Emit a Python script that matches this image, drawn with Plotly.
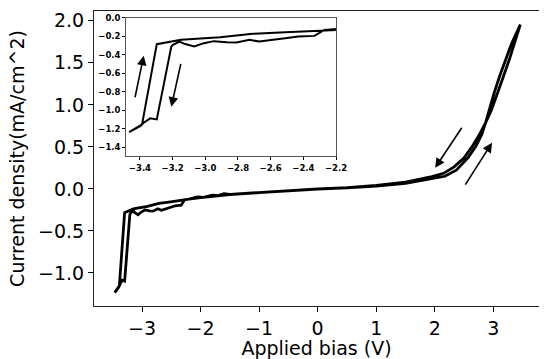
import plotly.graph_objects as go

# Forward sweep (V ascending)
fwd_v = [-3.466, -3.43, -3.396, -3.387, -3.297, -3.148, -2.909, -2.710, -2.511, -2.312, -2.2,
         -2.0, -1.5, -1.0, -0.5, 0.0, 0.5, 1.0, 1.5, 1.95, 2.172, 2.367, 2.566, 2.702, 2.803,
         2.867, 2.93, 3.014, 3.106, 3.206, 3.314, 3.461]
fwd_j = [-1.235, -1.20, -1.17, -1.153, -0.284, -0.237, -0.208, -0.172, -0.154, -0.129, -0.122,
         -0.105, -0.068, -0.045, -0.022, -0.003, 0.012, 0.033, 0.065, 0.118, 0.150, 0.222, 0.370,
         0.508, 0.647, 0.785, 0.943, 1.141, 1.338, 1.536, 1.734, 1.955]

# Reverse sweep (V descending)
rev_v = [3.461, 3.364, 3.272, 3.172, 3.074, 2.97, 2.867, 2.763, 2.642, 2.5, 2.33, 2.15, 1.95,
         1.5, 1.0, 0.5, 0.0, -0.5, -1.0, -1.5, -1.6, -1.7, -1.8, -1.95, -2.05, -2.15, -2.2,
         -2.272, -2.332, -2.431, -2.511, -2.611, -2.670, -2.730, -2.809, -2.869, -2.948,
         -3.008, -3.068, -3.128, -3.158, -3.198, -3.208, -3.297, -3.337, -3.377, -3.396, -3.466]
rev_j = [1.955, 1.734, 1.536, 1.338, 1.141, 0.943, 0.785, 0.647, 0.508, 0.370, 0.262, 0.185, 0.145,
         0.08, 0.04, 0.015, 0.0, -0.02, -0.042, -0.065, -0.058, -0.08, -0.074, -0.1, -0.095,
         -0.115, -0.122, -0.129, -0.194, -0.201, -0.219, -0.244, -0.255, -0.237, -0.265, -0.262,
         -0.251, -0.273, -0.309, -0.280, -0.255, -0.291, -0.309, -1.098, -1.087, -1.134, -1.170,
         -1.235]

x_ticks = [-3, -2, -1, 0, 1, 2, 3]
y_ticks = [-1.0, -0.5, 0.0, 0.5, 1.0, 1.5, 2.0]
inset_x_ticks = [-3.4, -3.2, -3.0, -2.8, -2.6, -2.4, -2.2]
inset_y_ticks = [0.0, -0.2, -0.4, -0.6, -0.8, -1.0, -1.2, -1.4]

# arrows: (head_x, head_y, tail_x, tail_y, axis)
arrows = [
    (2.006, 0.251, 2.478, 0.745, "main"),
    (2.978, 0.548, 2.506, 0.033, "main"),
    (-3.377, -0.409, -3.432, -0.875, "inset"),
    (-3.208, -0.961, -3.148, -0.481, "inset"),
]

V = fwd_v + rev_v
J = fwd_j + rev_j

FONT = "DejaVu Sans"
FS = 19
fig = go.Figure()
fig.add_trace(go.Scatter(x=V, y=J, mode="lines", line=dict(color="black", width=2.8),
                         xaxis="x", yaxis="y", showlegend=False))
fig.add_trace(go.Scatter(x=V, y=J, mode="lines", line=dict(color="black", width=2),
                         xaxis="x2", yaxis="y2", showlegend=False))

for hx, hy, tx, ty, ax in arrows:
    xr, yr = ("x", "y") if ax == "main" else ("x2", "y2")
    fig.add_annotation(x=hx, y=hy, ax=tx, ay=ty, xref=xr, yref=yr, axref=xr, ayref=yr,
                       showarrow=True, arrowhead=2, arrowsize=1.2, arrowwidth=1.6,
                       arrowcolor="black", text="")

fig.update_layout(
    width=550, height=359,
    margin=dict(l=94, r=0, t=11, b=52),
    paper_bgcolor="white", plot_bgcolor="white",
    font=dict(family=FONT, color="black"),
    xaxis=dict(range=[-3.82, 3.78], tickvals=x_ticks, ticks="outside", ticklen=5,
               tickcolor="black", showline=True, linecolor="#222", linewidth=1, mirror=True,
               showgrid=False, zeroline=False, tickfont=dict(size=FS),
               title=dict(text="Applied bias (V)", font=dict(size=FS), standoff=7)),
    yaxis=dict(range=[-1.394, 2.117], tickvals=y_ticks, tickformat=".1f", ticks="outside",
               ticklen=5, tickcolor="black", showline=True, linecolor="#222", linewidth=1,
               showgrid=False, zeroline=False, tickfont=dict(size=FS),
               title=dict(text="Current density(mA/cm^2)", font=dict(size=FS), standoff=8)),
    xaxis2=dict(domain=[0.0724, 0.5439], anchor="y2", range=[-3.484, -2.2],
                tickvals=inset_x_ticks, tickformat=".1f", ticks="outside", ticklen=3,
                tickcolor="black", showline=True, linecolor="#555", linewidth=1, mirror=True,
                showgrid=False, zeroline=False, tickfont=dict(size=8.5, weight="bold")),
    yaxis2=dict(domain=[0.5068, 0.9764], anchor="x2", range=[-1.5, 0.0],
                tickvals=inset_y_ticks, tickformat=".1f", ticks="outside", ticklen=3,
                tickcolor="black", showline=True, linecolor="#555", linewidth=1, mirror=True,
                showgrid=False, zeroline=False, tickfont=dict(size=8.5, weight="bold")),
)
fig.add_shape(type="rect", xref="x2 domain", yref="y2 domain", x0=0, x1=1, y0=0, y1=1,
              fillcolor="white", line=dict(width=0), layer="below")

fig.write_html("out.html")
